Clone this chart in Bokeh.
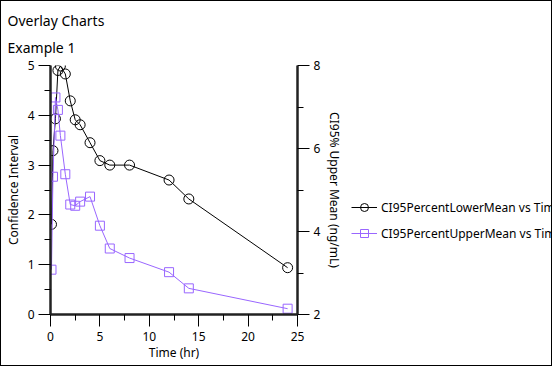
from bokeh.plotting import figure
from bokeh.layouts import row
from bokeh.models import (LinearAxis, Range1d, Legend, LegendItem, Title,
                          FixedTicker, ColumnDataSource)
from bokeh.embed import file_html
from bokeh.resources import INLINE

# ---- data ----
time_hr = [0.1, 0.25, 0.5, 0.75, 1, 1.5, 2, 2.5, 3, 4, 5, 6, 8, 12, 14, 24]
lower_mean = [1.81, 3.29, 3.93, 4.90, 4.99, 4.83, 4.29, 3.91, 3.81, 3.45,
              3.09, 3.00, 3.00, 2.70, 2.32, 0.94]
upper_mean = [3.08, 5.32, 7.23, 6.93, 6.31, 5.38, 4.65, 4.62, 4.72, 4.84,
              4.14, 3.59, 3.36, 3.02, 2.63, 2.14]
x_ticks = [0, 5, 10, 15, 20, 25]
y_ticks = [0, 1, 2, 3, 4, 5]
y2_ticks = [2, 4, 6, 8]
title_lines = ["Overlay Charts", "Example 1"]
lower_name = "CI95PercentLowerMean vs Time"
upper_name = "CI95PercentUpperMean vs Time"

FONT = "Noto Sans"
PURPLE = "#9966FF"
BORDER = "1px solid black"

MAIN_W, LEG_W, H = 345, 207, 366

p = figure(width=MAIN_W, height=H, output_backend="svg", toolbar_location=None,
           x_range=Range1d(0, 25), y_range=Range1d(0, 5),
           min_border_left=49, min_border_right=47, min_border_top=64,
           min_border_bottom=53, title=None)
p.styles = {"border-top": BORDER, "border-left": BORDER, "border-bottom": BORDER,
            "box-sizing": "border-box"}
p.outline_line_color = None
p.grid.visible = False
p.background_fill_color = "white"
p.border_fill_color = "white"

p.extra_y_ranges = {"right": Range1d(2, 8)}
p.add_layout(LinearAxis(y_range_name="right", axis_label="CI95% Upper Mean (ng/mL)"), "right")

for ax, ticks in ((p.xaxis[0], x_ticks), (p.yaxis[0], y_ticks), (p.yaxis[1], y2_ticks)):
    step = ticks[1] - ticks[0]
    minors = [t + step / 2 for t in ticks[:-1]]
    ax.ticker = FixedTicker(ticks=ticks, minor_ticks=minors)
    ax.axis_line_color = "#222222"
    ax.axis_line_width = 2.5
    ax.major_tick_line_color = "black"
    ax.minor_tick_line_color = "black"
    ax.major_tick_out = 12
    ax.major_tick_in = 0
    ax.minor_tick_out = 6
    ax.minor_tick_in = 0
    ax.major_label_text_font = FONT
    ax.major_label_text_font_size = "12px"
    ax.major_label_text_color = "black"
    ax.major_label_standoff = 4
    ax.axis_label_text_font = FONT
    ax.axis_label_text_font_size = "12px"
    ax.axis_label_text_font_style = "normal"
    ax.axis_label_text_color = "black"
    ax.axis_label_standoff = 3

p.xaxis.axis_label = "Time (hr)"
p.xaxis.major_label_standoff = 5
p.xaxis.axis_label_standoff = 0
p.yaxis[0].axis_label = "Confidence Interval"

src = ColumnDataSource(dict(t=time_hr, lo=lower_mean, up=upper_mean))

p.line("t", "lo", source=src, line_color="black", line_width=1)
p.scatter("t", "lo", source=src, marker="circle", size=10,
          fill_color=None, line_color="black", line_width=1)
p.line("t", "up", source=src, y_range_name="right", line_color=PURPLE, line_width=1)
p.scatter("t", "up", source=src, y_range_name="right", marker="square", size=9,
          fill_color=None, line_color=PURPLE, line_width=1)

# two-line title
p.add_layout(Title(text="\n".join(title_lines), align="left", offset=-43, standoff=16,
                   text_line_height=1.43,
                   text_font=FONT, text_font_size="14px", text_font_style="normal",
                   text_color="black"), "above")

# ---- legend panel (separate canvas to the right of the chart) ----
q = figure(width=LEG_W, height=H, output_backend="svg", toolbar_location=None,
           x_range=Range1d(-2, -1), y_range=Range1d(-2, -1),
           min_border=0, title=None)
q.styles = {"border-top": BORDER, "border-right": BORDER, "border-bottom": BORDER,
            "box-sizing": "border-box"}
q.axis.visible = False
q.grid.visible = False
q.outline_line_color = None
q.background_fill_color = "white"
q.border_fill_color = "white"

# same series drawn out of view; they only supply the legend glyphs
r1 = q.line("t", "lo", source=src, line_color="black", line_width=1)
s1 = q.scatter("t", "lo", source=src, marker="circle", size=10,
               fill_color=None, line_color="black", line_width=1)
r2 = q.line("t", "up", source=src, line_color=PURPLE, line_width=1)
s2 = q.scatter("t", "up", source=src, marker="square", size=9,
               fill_color=None, line_color=PURPLE, line_width=1)

legend = Legend(items=[LegendItem(label=lower_name, renderers=[r1, s1]),
                       LegendItem(label=upper_name, renderers=[r2, s2])],
                location=(6, 71), orientation="vertical",
                glyph_width=26, glyph_height=20, label_height=20,
                label_standoff=4, spacing=6, padding=0, margin=0,
                border_line_color=None, background_fill_alpha=0,
                label_text_font=FONT, label_text_font_size="12px",
                label_text_color="black")
q.add_layout(legend, "center")

layout = row(p, q, spacing=0)
open("out.html", "w").write(file_html(layout, INLINE))
